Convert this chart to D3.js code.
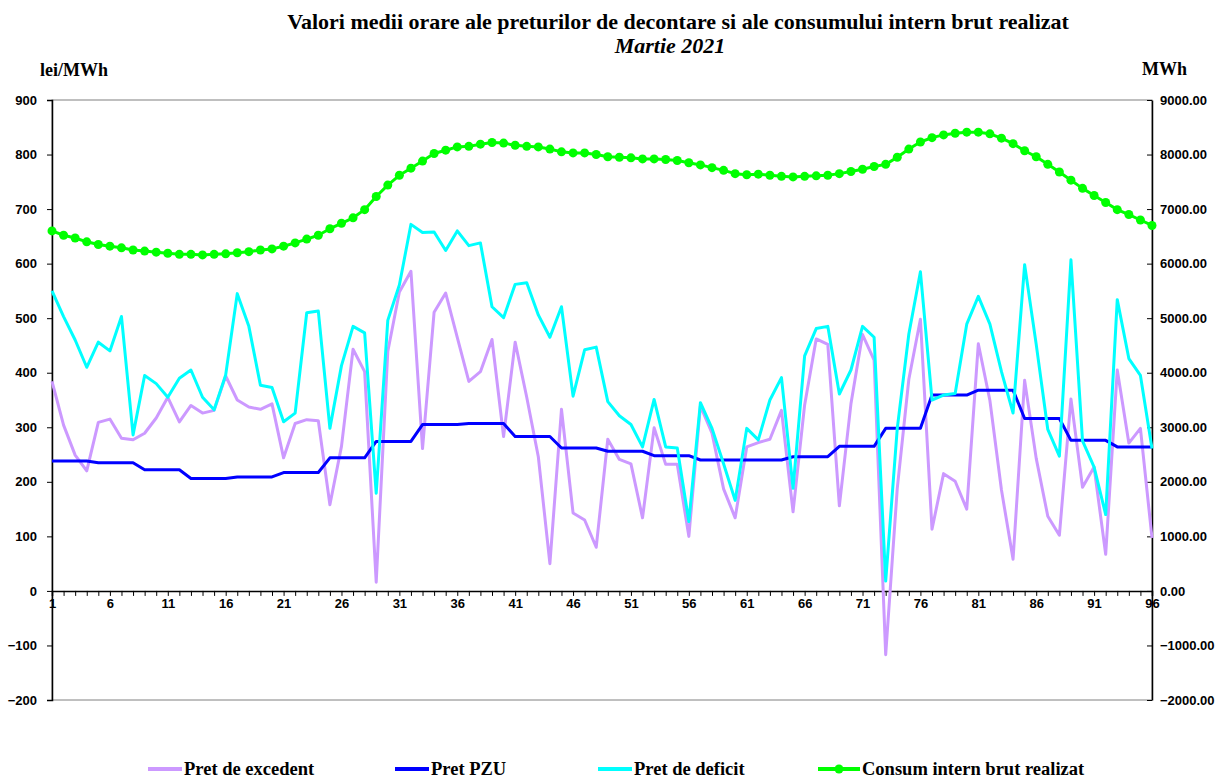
<!DOCTYPE html>
<html>
<head>
<meta charset="utf-8">
<script src="https://cdn.jsdelivr.net/npm/d3@7"></script>
<style>
  body { margin: 0; background: #fff; }
  svg { display: block; }
</style>
</head>
<body>
<div class="container"></div>
<script>
// ***********************************************
// data
var hours = d3.range(1, 97);

var pretExcedent = [384, 304, 249, 220, 309, 315, 280, 277, 289, 317, 355, 310, 340, 326, 331, 394,
  350, 337, 333, 343, 244, 307, 314, 312, 158, 265, 443, 402, 16, 439, 548, 586,
  261, 511, 546, 465, 384, 402, 461, 283, 456, 355, 246, 50, 333, 143, 130, 80,
  278, 241, 233, 134, 299, 232, 232, 100, 339, 289, 187, 134, 264, 272, 278, 331,
  145, 341, 462, 452, 156, 343, 470, 423, -117, 188, 388, 498, 113, 215, 201, 150,
  453, 349, 185, 58, 386, 243, 137, 102, 352, 190, 227, 67, 405, 271, 298, 97];

var pretPZU = [238, 238, 238, 238, 235, 235, 235, 235, 222, 222, 222, 222, 206, 206, 206, 206,
  209, 209, 209, 209, 217, 217, 217, 217, 244, 244, 244, 244, 274, 274, 274, 274,
  305, 305, 305, 305, 307, 307, 307, 307, 283, 283, 283, 283, 262, 262, 262, 262,
  256, 256, 256, 256, 248, 248, 248, 248, 240, 240, 240, 240, 240, 240, 240, 240,
  246, 246, 246, 246, 265, 265, 265, 265, 298, 298, 298, 298, 359, 359, 359, 359,
  368, 368, 368, 368, 316, 316, 316, 316, 276, 276, 276, 276, 264, 264, 264, 264];

var pretDeficit = [550, 503, 460, 410, 456, 440, 503, 286, 395, 380, 355, 390, 405, 355, 332, 396,
  545, 485, 377, 373, 310, 326, 510, 513, 298, 413, 485, 473, 179, 496, 561, 672,
  657, 658, 624, 660, 633, 638, 521, 501, 562, 565, 506, 465, 521, 357, 442, 447,
  347, 321, 305, 264, 351, 264, 262, 127, 345, 298, 233, 166, 298, 277, 350, 391,
  188, 431, 481, 485, 361, 405, 485, 465, 18, 298, 471, 585, 350, 359, 362, 489,
  540, 489, 402, 326, 598, 452, 296, 247, 607, 275, 227, 140, 534, 426, 395, 261];

var consum = [6600, 6520, 6470, 6400, 6350, 6320, 6290, 6250, 6230, 6210, 6190, 6170, 6170, 6160, 6170, 6180,
  6200, 6220, 6250, 6270, 6320, 6380, 6450, 6520, 6640, 6740, 6840, 6990, 7230, 7440, 7620, 7750,
  7880, 8020, 8080, 8140, 8150, 8190, 8220, 8210, 8170, 8150, 8140, 8100, 8050, 8030, 8030, 8000,
  7960, 7950, 7940, 7920, 7920, 7910, 7890, 7850, 7810, 7760, 7710, 7650, 7630, 7640, 7620, 7600,
  7590, 7600, 7610, 7620, 7650, 7690, 7730, 7780, 7820, 7950, 8100, 8230, 8310, 8360, 8390, 8410,
  8410, 8380, 8300, 8200, 8070, 7960, 7820, 7680, 7530, 7380, 7250, 7120, 6990, 6900, 6800, 6700];

var leftTicks = [900, 800, 700, 600, 500, 400, 300, 200, 100, 0, -100, -200];
var rightTicks = [9000, 8000, 7000, 6000, 5000, 4000, 3000, 2000, 1000, 0, -1000, -2000];
var xLabels = [1, 6, 11, 16, 21, 26, 31, 36, 41, 46, 51, 56, 61, 66, 71, 76, 81, 86, 91, 96];

var titleText = "Valori medii orare ale preturilor de decontare si ale consumului intern brut realizat";
var subTitle = "Martie 2021";

var series = [
  { name: "Pret de excedent", values: pretExcedent, color: "#CC99FF", axis: "left" },
  { name: "Pret PZU", values: pretPZU, color: "#0000FF", axis: "left" },
  { name: "Pret de deficit", values: pretDeficit, color: "#00FFFF", axis: "left" },
  { name: "Consum intern brut realizat", values: consum, color: "#00FF00", axis: "right", marker: true }
];

// ***********************************************

var W = 1220, H = 780;
var plot = { left: 52, right: 1152, top: 100, bottom: 700 };
var serif = "'Liberation Serif', 'Times New Roman', serif";
var sans = "'Liberation Sans', Arial, sans-serif";

var svg = d3.select(".container")
    .append("svg")
        .attr("width", W)
        .attr("height", H);

var x = d3.scaleLinear().domain([1, 96]).range([plot.left, plot.right]);
var yL = d3.scaleLinear().domain([-200, 900]).range([plot.bottom, plot.top]);
var yR = d3.scaleLinear().domain([-2000, 9000]).range([plot.bottom, plot.top]);

// title
svg.append("text")
    .attr("x", 678).attr("y", 29)
    .attr("text-anchor", "middle")
    .style("font-family", serif).style("font-weight", "bold").style("font-size", "22px")
    .text(titleText);
svg.append("text")
    .attr("x", 670).attr("y", 53)
    .attr("text-anchor", "middle")
    .style("font-family", serif).style("font-weight", "bold").style("font-style", "italic")
    .style("font-size", "22px")
    .text(subTitle);

svg.append("text")
    .attr("x", 40).attr("y", 76)
    .style("font-family", serif).style("font-weight", "bold").style("font-size", "18px")
    .text("lei/MWh");
svg.append("text")
    .attr("x", 1142).attr("y", 75)
    .style("font-family", serif).style("font-weight", "bold").style("font-size", "18px")
    .text("MWh");

// plot frame
svg.append("rect")
    .attr("x", plot.left).attr("y", plot.top)
    .attr("width", plot.right - plot.left).attr("height", plot.bottom - plot.top)
    .attr("fill", "none").attr("stroke", "#808080").attr("stroke-width", 1);

// left axis
var gL = svg.append("g").attr("transform", "translate(" + plot.left + ",0)")
    .call(d3.axisLeft(yL).tickValues(leftTicks).tickSize(5).tickPadding(10).tickFormat(d3.format("d")));
gL.select(".domain").attr("stroke", "#000").attr("stroke-width", 1.5);
gL.selectAll("text").style("font-family", sans).style("font-weight", "bold").style("font-size", "13px");

// right axis (ticks point inward)
var gR = svg.append("g").attr("transform", "translate(" + plot.right + ",0)")
    .call(d3.axisRight(yR).tickValues(rightTicks).tickSize(0).tickPadding(8).tickFormat(d3.format(".2f")));
gR.select(".domain").attr("stroke", "#000").attr("stroke-width", 1.5);
gR.selectAll(".tick").append("line").attr("x1", -5).attr("x2", 0).attr("stroke", "#000");
gR.selectAll("text").style("font-family", sans).style("font-weight", "bold").style("font-size", "13px");

// x axis on the zero line
var gX = svg.append("g").attr("transform", "translate(0," + yL(0) + ")")
    .call(d3.axisBottom(x).tickValues(hours).tickSize(5).tickPadding(3).tickFormat(""));
gX.select(".domain").attr("stroke", "#000").attr("stroke-width", 1.5);
gX.selectAll(".tick")
    .filter(d => xLabels.indexOf(d) >= 0)
    .append("text")
        .attr("y", 8).attr("dy", "0.71em")
        .attr("text-anchor", "middle")
        .attr("fill", "#000")
        .style("font-family", sans).style("font-weight", "bold").style("font-size", "13px")
        .text(d => d);

// lines
series.forEach(function (s) {
    var y = s.axis == "left" ? yL : yR;
    var line = d3.line().x((d, i) => x(hours[i])).y(d => y(d));
    svg.append("path")
        .datum(s.values)
        .attr("d", line)
        .attr("fill", "none")
        .attr("stroke", s.color)
        .attr("stroke-width", 3)
        .attr("stroke-linejoin", "round");
    if (s.marker) {
        svg.append("g").selectAll("circle")
            .data(s.values)
            .enter().append("circle")
                .attr("cx", (d, i) => x(hours[i]))
                .attr("cy", d => y(d))
                .attr("r", 4.5)
                .attr("fill", s.color);
    }
});

// legend
var legendX = [148, 395, 598, 818];
var leg = svg.append("g").attr("transform", "translate(0,769)");
series.forEach(function (s, i) {
    var g = leg.append("g").attr("transform", "translate(" + legendX[i] + ",0)");
    var len = s.marker ? 42 : 34;
    g.append("line").attr("x1", 0).attr("x2", len)
        .attr("stroke", s.color).attr("stroke-width", 4);
    if (s.marker) g.append("circle").attr("cx", len / 2).attr("r", 4.5).attr("fill", s.color);
    g.append("text")
        .attr("x", len + 2).attr("dy", "0.3em")
        .style("font-family", serif).style("font-weight", "bold").style("font-size", "18.5px")
        .text(s.name);
});
</script>
</body>
</html>
